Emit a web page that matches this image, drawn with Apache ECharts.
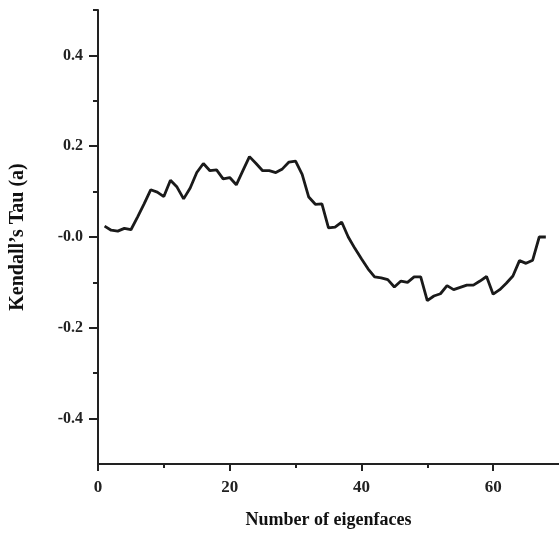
<!DOCTYPE html>
<html>
<head>
<meta charset="utf-8">
<script src="https://cdn.jsdelivr.net/npm/echarts@6/dist/echarts.min.js"></script>
<style>html,body{margin:0;padding:0;background:#fff;}#c{width:559px;height:534px;}</style>
</head>
<body>
<div id="c"></div>
<script>
const eigenfaces = [1,2,3,4,5,6,7,8,9,10,11,12,13,14,15,16,17,18,19,20,21,22,23,24,25,26,27,28,29,30,31,32,33,34,35,36,37,38,39,40,41,42,43,44,45,46,47,48,49,50,51,52,53,54,55,56,57,58,59,60,61,62,63,64,65,66,67,68];
const tau = [0.024,0.015,0.013,0.019,0.016,0.044,0.073,0.104,0.099,0.089,0.125,0.110,0.084,0.108,0.142,0.162,0.146,0.148,0.128,0.131,0.115,0.146,0.177,0.162,0.146,0.146,0.142,0.150,0.165,0.167,0.138,0.088,0.072,0.073,0.020,0.022,0.033,0.000,-0.025,-0.048,-0.070,-0.088,-0.090,-0.094,-0.110,-0.097,-0.100,-0.088,-0.088,-0.140,-0.130,-0.125,-0.107,-0.116,-0.111,-0.106,-0.106,-0.097,-0.087,-0.126,-0.116,-0.102,-0.086,-0.052,-0.058,-0.051,0.000,0.000];
const xMajorTicks = [0,20,40,60];
const xMinorTicks = [10,30,50];
const yMajorTicks = [-0.4,-0.2,0,0.2,0.4];
const yMinorTicks = [-0.3,-0.1,0.1,0.3,0.5];

const font = '"Liberation Serif", "DejaVu Serif", serif';
const chart = echarts.init(document.getElementById('c'));
const lineC = '#222';
chart.setOption({
  animation: false,
  backgroundColor: '#fff',
  grid: {left: 96, right: -2, top: 10, bottom: 65, containLabel: false},
  xAxis: [{
    type: 'value', min: 0, max: 70, position: 'bottom',
    name: 'Number of eigenfaces', nameLocation: 'middle', nameGap: 47,
    nameTextStyle: {fontFamily: font, fontWeight: 'bold', fontSize: 18, color: '#111'},
    axisLine: {show: true, onZero: false, lineStyle: {color: lineC, width: 2}},
    axisTick: {show: true, customValues: xMajorTicks, length: 7, lineStyle: {color: lineC, width: 2}},
    axisLabel: {customValues: xMajorTicks, fontFamily: font, fontWeight: 'bold', fontSize: 17, color: '#222', margin: 15},
    splitLine: {show: false}
  }, {
    type: 'value', min: 0, max: 70, position: 'bottom',
    axisLine: {show: false, onZero: false},
    axisTick: {show: true, customValues: xMinorTicks, length: 4, lineStyle: {color: lineC, width: 2}},
    axisLabel: {show: false},
    splitLine: {show: false}
  }],
  yAxis: [{
    type: 'value', min: -0.5, max: 0.5, position: 'left',
    name: 'Kendall\u2019s Tau (a)', nameLocation: 'middle', nameGap: 70,
    nameTextStyle: {fontFamily: font, fontWeight: 'bold', fontSize: 20, color: '#111'},
    axisLine: {show: true, onZero: false, lineStyle: {color: lineC, width: 2}},
    axisTick: {show: true, customValues: yMajorTicks, length: 9, lineStyle: {color: lineC, width: 2}},
    axisLabel: {customValues: yMajorTicks, fontFamily: font, fontWeight: 'bold', fontSize: 16, color: '#222', margin: 15,
      formatter: v => (Math.abs(v) < 1e-9 ? '-0.0' : v.toFixed(1))},
    splitLine: {show: false}
  }, {
    type: 'value', min: -0.5, max: 0.5, position: 'left',
    axisLine: {show: false, onZero: false},
    axisTick: {show: true, customValues: yMinorTicks, length: 5, lineStyle: {color: lineC, width: 2}},
    axisLabel: {show: false},
    splitLine: {show: false}
  }],
  series: [{
    type: 'line',
    xAxisIndex: 0, yAxisIndex: 0,
    data: eigenfaces.map((x, i) => [x, tau[i]]),
    showSymbol: false,
    lineStyle: {color: '#1a1a1a', width: 2.8},
    z: 3
  }]
});
</script>
</body>
</html>
